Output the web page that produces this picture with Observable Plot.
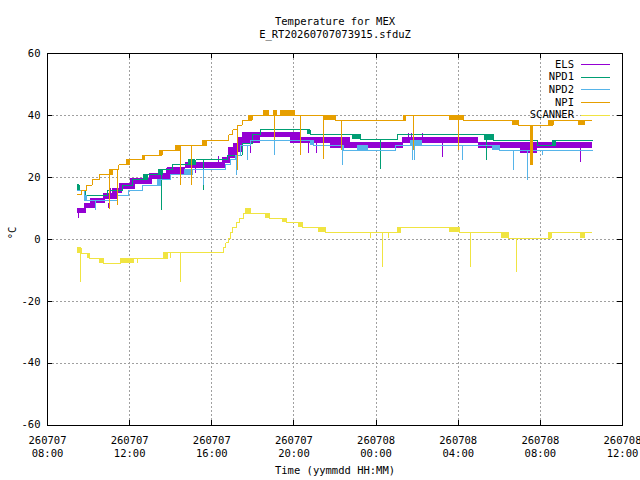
<!DOCTYPE html>
<html><head><meta charset="utf-8">
<script src="https://cdn.jsdelivr.net/npm/d3@7"></script>
<script src="https://cdn.jsdelivr.net/npm/@observablehq/plot@0.6"></script>
<style>body{margin:0;background:#fff}svg{display:block}</style>
</head><body><div id="chart"></div>
<script>
// ---- data (time = hours since 260707 00:00, values in °C) ----
const titleText = "Temperature for MEX";
const subtitleText = "E_RT20260707073915.sfduZ";
const xLabelText = "Time (yymmdd HH:MM)";
const yLabelText = "°C";
const seriesNames = ["ELS", "NPD1", "NPD2", "NPI", "SCANNER"];
const seriesColors = ["#9400d3", "#009e73", "#56b4e9", "#e69f00", "#f0e442"];
const xTickHours = [8, 12, 16, 20, 24, 28, 32, 36];
const yTicks = [-60, -40, -20, 0, 20, 40, 60];

// ELS: dense oscillation bands [t0, t1, lo, hi], spikes [t, from, to]
const elsSteps = [];
const elsBands = [[9.46,9.90,8.3,10.0],[9.80,10.34,9.9,11.6],[10.09,10.82,11.5,13.1],[10.73,11.41,12.8,14.7],[11.16,11.65,14.7,16.3],[11.50,12.28,16.0,17.9],[12.04,13.11,17.6,19.5],[12.97,13.99,19.2,21.2],[13.84,14.72,20.9,23.1],[14.72,16.67,22.8,24.7],[16.52,16.91,24.4,26.3],[16.81,17.25,26.0,29.5],[17.05,17.54,28.0,31.0],[17.25,18.37,31.0,32.8],[17.54,20.32,32.8,34.4],[19.83,22.75,31.0,32.8],[21.78,25.33,29.3,31.2],[25.28,28.98,31.0,32.8],[28.98,34.53,29.3,31.2],[31.03,31.86,27.6,29.2]];
const elsSpikes = [[9.52,8.3,6.7],[10.97,11.5,9.9],[11.07,14.7,16.3],[13.80,21.2,23.0],[15.19,22.8,21.2],[16.33,24.7,26.8],[17.48,32.8,34.4],[17.88,31.0,27.7],[20.71,31.0,27.7],[21.08,31.0,27.7],[25.58,32.8,34.0],[25.72,32.8,34.0],[26.26,32.8,34.0],[27.22,31.0,26.3],[33.95,29.3,24.7]];

const npd1Steps = [[9.46,17.3],[9.57,15.7],[9.85,14.1],[10.92,15.7],[11.65,17.3],[12.12,19.2],[12.85,20.9],[13.58,22.4],[14.07,24.0],[15.21,25.6],[16.75,27.2],[17.48,30.8],[17.97,33.8],[18.37,35.3],[20.80,33.8],[23.24,32.2],[25.03,33.8],[29.71,32.0],[31.86,30.4],[32.73,32.0],[34.53,32.0]];
const npd1Bands = [[9.46,9.57,15.7,17.6],[10.90,10.97,14.1,15.7],[12.69,12.85,19.2,20.9],[13.42,13.58,20.9,22.4],[14.88,15.21,24.0,25.6],[20.64,20.80,33.8,35.3],[22.83,23.24,32.2,33.8],[29.27,29.71,32.0,33.8],[32.59,32.73,30.4,32.0]];
const npd1Spikes = [[13.55,20.9,9.3],[15.61,25.6,15.7],[24.21,32.2,22.4],[29.37,32.0,25.4]];

const npd2Steps = [[9.48,15.7],[9.80,12.5],[11.41,14.1],[11.96,15.7],[12.61,17.5],[13.50,19.2],[13.99,20.9],[15.04,22.4],[16.67,24.0],[16.91,25.6],[17.15,27.2],[17.40,30.4],[17.88,32.0],[20.94,30.4],[22.41,28.8],[24.94,30.4],[30.01,28.8],[34.53,28.8]];
const npd2Bands = [[9.80,9.93,12.5,14.1],[13.34,13.50,17.5,19.2],[14.67,15.04,20.9,22.4],[20.80,20.94,30.4,32.0],[23.08,23.64,28.8,30.4],[25.67,26.26,30.4,32.0],[29.66,30.01,28.8,30.4]];
const npd2Spikes = [[10.34,12.5,9.3],[15.60,22.4,17.3],[17.20,27.2,20.5],[17.74,30.4,25.4],[19.05,32.0,27.2],[22.36,30.4,23.8],[25.77,30.4,25.4],[25.87,30.4,25.4],[28.20,30.4,25.4],[30.69,28.8,22.1],[31.37,28.8,18.9],[32.10,28.8,27.2]];

const npiSteps = [[9.46,14.3],[9.67,15.9],[9.91,17.5],[10.18,19.2],[10.53,20.8],[11.15,22.4],[11.47,24.0],[11.99,25.6],[12.72,27.2],[13.58,28.8],[14.43,30.4],[15.74,32.0],[16.83,33.7],[17.02,35.3],[17.24,36.9],[17.48,38.5],[17.97,40.1],[22.02,38.5],[25.43,40.1],[28.25,38.5],[30.93,36.9],[32.63,38.5],[34.53,38.5]];
const npiBands = [[11.03,11.15,20.8,22.4],[11.85,11.99,24.0,25.6],[12.61,12.72,25.6,27.2],[13.47,13.58,27.2,28.8],[14.23,14.43,28.8,30.4],[15.53,15.74,30.4,32.0],[17.80,17.97,38.5,40.1],[18.52,18.81,40.1,41.7],[19.00,19.20,40.1,41.7],[19.34,20.07,40.1,41.7],[21.44,22.02,38.5,40.1],[25.33,25.43,38.5,40.1],[27.57,28.25,38.5,40.1],[30.64,30.93,36.9,38.5],[32.39,32.63,36.9,38.5],[33.85,34.19,36.9,38.5],[31.52,31.66,23.8,36.9]];
const npiSpikes = [[11.02,20.8,9.6],[11.41,22.4,10.9],[14.48,30.4,17.3],[15.01,30.4,17.3],[17.25,36.9,22.1],[19.05,40.1,32.0],[20.32,40.1,27.2],[21.44,40.1,25.6],[22.31,38.5,28.8],[25.82,40.1,28.8],[28.01,40.1,28.8]];

const scannerSteps = [[9.48,-2.8],[9.64,-4.5],[10.04,-6.1],[10.71,-7.7],[11.55,-6.1],[13.86,-4.4],[16.57,-2.8],[16.68,-1.2],[16.80,0.3],[16.91,2.1],[17.01,3.7],[17.20,5.3],[17.36,6.6],[17.53,8.2],[18.81,6.6],[19.64,5.3],[20.40,3.7],[21.53,2.1],[25.19,3.7],[28.06,2.1],[30.43,0.3],[32.52,2.1],[34.48,2.1]];
const scannerBands = [[9.48,9.64,-4.5,-2.8],[9.96,10.04,-6.1,-4.5],[10.55,10.71,-7.7,-6.1],[11.55,12.24,-7.7,-6.1],[13.63,13.86,-6.1,-4.4],[17.64,17.92,8.2,9.8],[18.61,18.81,6.6,8.2],[19.46,19.64,5.3,6.6],[20.23,20.40,3.7,5.3],[21.21,21.53,2.1,3.7],[25.03,25.19,2.1,3.7],[27.57,28.06,2.1,3.7],[30.10,30.43,0.3,2.1],[32.41,32.52,0.3,2.1],[33.95,34.19,0.3,2.1]];
const scannerSpikes = [[9.62,-4.5,-13.9],[12.40,-6.1,-7.7],[14.00,-4.4,-6.1],[14.49,-4.4,-13.9],[23.73,2.1,0.3],[24.32,2.1,-9.0],[24.62,2.1,0.3],[28.61,2.1,-9.0],[30.85,0.3,-10.6]];

// ---- rendering ----
const t0 = Date.UTC(2026, 6, 7);
const T = h => new Date(t0 + h * 3600000);
const xTicks = xTickHours.map(T);
const fmtD = d3.utcFormat("%y%m%d"), fmtH = d3.utcFormat("%H:%M");

const W = 640, H = 480, mL = 47, mR = 18, mT = 53, mB = 55.5;
const fw = W - mL - mR, fh = H - mT - mB;
const tick = 5;
const font = "'DejaVu Sans Mono', 'Liberation Mono', monospace";
const crisp = "crispEdges";

const allSeries = [
  [elsSteps, elsBands, elsSpikes],
  [npd1Steps, npd1Bands, npd1Spikes],
  [npd2Steps, npd2Bands, npd2Spikes],
  [npiSteps, npiBands, npiSpikes],
  [scannerSteps, scannerBands, scannerSpikes]
];

const seriesMarks = allSeries.flatMap(([steps, bands, spikes], i) => {
  const c = seriesColors[i];
  return [
    Plot.line(steps, {x: d => T(d[0]), y: d => d[1], curve: "step-after", stroke: c, strokeWidth: 1, shapeRendering: crisp}),
    Plot.rect(bands, {x1: d => T(d[0]), x2: d => T(d[1]), y1: d => d[2], y2: d => d[3], fill: c, shapeRendering: crisp}),
    Plot.ruleX(spikes, {x: d => T(d[0]), y1: d => d[1], y2: d => d[2], stroke: c, strokeWidth: 1, shapeRendering: crisp})
  ];
});

const chart = Plot.plot({
  width: W, height: H,
  marginLeft: mL, marginRight: mR, marginTop: mT, marginBottom: mB,
  style: {fontFamily: font, fontSize: "10.5px", background: "#fff", color: "#000"},
  x: {type: "utc", domain: [T(8), T(36)]},
  y: {domain: [-60, 60]},
  marks: [
    Plot.gridX(xTicks.slice(1, -1), {stroke: "#a0a0a0", strokeOpacity: 1, strokeDasharray: "2,2", insetTop: tick, insetBottom: tick, shapeRendering: crisp}),
    Plot.gridY(yTicks.slice(1, -1), {stroke: "#a0a0a0", strokeOpacity: 1, strokeDasharray: "2,2", insetLeft: tick, insetRight: tick, shapeRendering: crisp}),
    ...seriesMarks,
    Plot.frame({stroke: "#000", strokeWidth: 1, shapeRendering: crisp}),
    Plot.ruleX(xTicks, {x: d => d, insetTop: fh - tick, stroke: "#000", shapeRendering: crisp}),
    Plot.ruleX(xTicks, {x: d => d, insetBottom: fh - tick, stroke: "#000", shapeRendering: crisp}),
    Plot.ruleY(yTicks, {y: d => d, insetRight: fw - tick, stroke: "#000", shapeRendering: crisp}),
    Plot.ruleY(yTicks, {y: d => d, insetLeft: fw - tick, stroke: "#000", shapeRendering: crisp}),
    Plot.axisX(xTicks, {anchor: "bottom", tickSize: 0, tickPadding: 10, lineHeight: 1.24, label: null, tickFormat: d => fmtD(d) + "\n" + fmtH(d)}),
    Plot.axisY(yTicks, {anchor: "left", tickSize: 0, tickPadding: 7, label: null, tickFormat: d => String(d).replace("−", "-")}),
    Plot.text([titleText], {text: d => d, frameAnchor: "top", dy: -36}),
    Plot.text([subtitleText], {text: d => d, frameAnchor: "top", dy: -23}),
    Plot.text([xLabelText], {text: d => d, frameAnchor: "bottom", dy: 49}),
    Plot.text([yLabelText], {text: d => d, frameAnchor: "left", dx: -35, rotate: -90})
  ]
});

// legend (gnuplot key, top right inside the frame)
const svg = d3.select(chart);
const key = svg.append("g").attr("font-family", font).attr("font-size", "10.5px");
seriesNames.forEach((name, i) => {
  const y = 64 + i * 12.7;
  key.append("text").attr("x", 574).attr("y", y).attr("dy", "0.35em").attr("text-anchor", "end").attr("fill", "#000").text(name);
  key.append("line").attr("x1", 581).attr("x2", 610).attr("y1", Math.round(y) + 0.5).attr("y2", Math.round(y) + 0.5).attr("stroke", seriesColors[i]).attr("stroke-width", 1);
});

document.getElementById("chart").appendChild(chart);
</script>
</body></html>
